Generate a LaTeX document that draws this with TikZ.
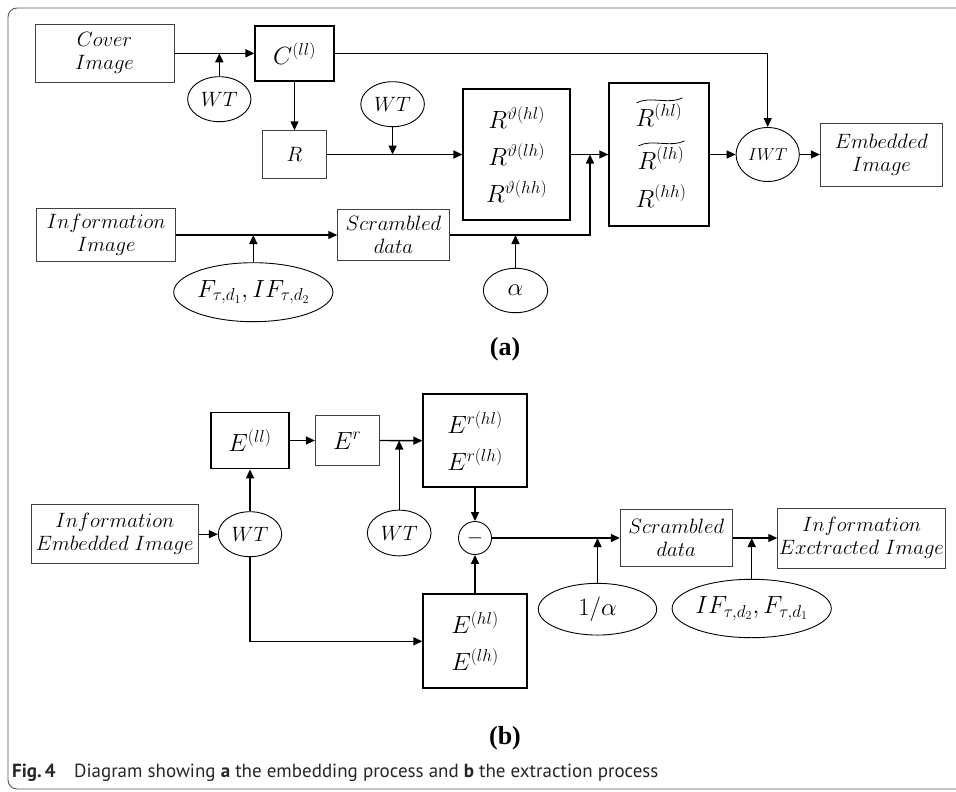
\documentclass[tikz,border=0pt]{standalone}
\usepackage{fontspec}
\usepackage{amsmath}
\newfontfamily\capfont{PT Sans}
\newfontfamily\lblfont{Liberation Serif}
\usetikzlibrary{arrows.meta,shapes.geometric,calc}
\begin{document}
\begin{tikzpicture}[x=1pt,y=-1pt,
  thinbox/.style={draw=black!75, line width=0.9pt, rectangle, inner sep=0pt, align=center, font=\fontsize{19.5}{23}\selectfont},
  thickbox/.style={draw=black, line width=1.8pt, rectangle, inner sep=0pt, align=center, font=\fontsize{24}{37}\selectfont},
  inbox/.style={inner sep=0pt, anchor=base, font=\fontsize{24}{26}\selectfont},
  oval/.style={draw=black, line width=0.9pt, ellipse, inner sep=0pt, font=\fontsize{21}{24}\selectfont},
  arr/.style={line width=1.4pt, -{Triangle[length=9pt,width=8pt]}},
  tl/.style={line width=0.8pt},
  sublbl/.style={font=\lblfont\bfseries\fontsize{26}{28}\selectfont, inner sep=0pt}
]
\useasboundingbox (0,0) rectangle (956,792);
\draw[black!65, line width=0.9pt, rounded corners=9pt] (8,8) rectangle (1000,789);

% ---------- (a) ----------
\node[thinbox, minimum width=139, minimum height=58] (cover) at (104.5,53.3) {$Cover$\\$Image$};
\node[thickbox, minimum width=78.3, minimum height=55.3] (C) at (294.5,53.3) {$C^{(ll)}$};
\node[oval, minimum width=63.3, minimum height=45] (wt1) at (219.3,99.2) {$WT$};
\node[thinbox, minimum width=64, minimum height=47.6, font=\fontsize{22}{24}\selectfont] (R) at (294.5,154.5) {$R$};
\node[oval, minimum width=63.6, minimum height=45] (wt2) at (392.6,104.2) {$WT$};
\node[thickbox, minimum width=106.7, minimum height=131] (Rv) at (516.7,154.5) {$R^{\vartheta(hl)}$\\$R^{\vartheta(lh)}$\\$R^{\vartheta(hh)}$};
\node[thickbox, minimum width=99.4, minimum height=143.3] (Rt) at (659,154.5) {};
\node[inbox] (rt1) at (659,126) {$R^{(hl)}$};
\node[inbox] (rt2) at (661,169) {$R^{(lh)}$};
\node[inbox] (rt3) at (661,207) {$R^{(hh)}$};
\draw[tl] ($(rt1.north west)+(1,-1)$) .. controls ($(rt1.north west)!0.3!(rt1.north east)+(0,-8)$) and ($(rt1.north west)!0.7!(rt1.north east)+(0,1)$) .. ($(rt1.north east)+(0,-6)$);
\draw[tl] ($(rt2.north west)+(1,-1)$) .. controls ($(rt2.north west)!0.3!(rt2.north east)+(0,-8)$) and ($(rt2.north west)!0.7!(rt2.north east)+(0,1)$) .. ($(rt2.north east)+(0,-6)$);
\node[oval, minimum width=63.3, minimum height=54, font=\fontsize{19}{22}\selectfont] (iwt) at (767.7,154.5) {$IWT$};
\node[thinbox, minimum width=122.4, minimum height=63] (emb) at (881.5,154.5) {$Embedded$\\$Image$};
\node[thinbox, minimum width=139, minimum height=53.4] (info) at (106.2,235) {$Information$\\$Image$};
\node[thinbox, minimum width=111.6, minimum height=51.4] (scr) at (393.5,235) {$Scrambled$\\$data$};
\node[oval, minimum width=153.3, minimum height=59, font=\fontsize{23}{26}\selectfont] (F) at (253.3,292.2) {$F_{\tau,d_1},IF_{\tau,d_2}$};
\node[oval, minimum width=64.4, minimum height=44.4, font=\fontsize{23}{26}\selectfont] (al) at (515.5,290.5) {$\alpha$};
\node[sublbl] (la) at (505,349) {(a)};
\coordinate (j1) at (590,154.5);

\draw[arr] (cover.east) -- (C.west);
\draw[arr] (wt1.north) -- (wt1.north |- cover.east);
\draw[arr] (C.south) -- (R.north);
\draw[arr] (R.east) -- (Rv.west);
\draw[arr] (wt2.south) -- (wt2.south |- R.east);
\draw[arr] (C.east) -| (iwt.north);
\draw[arr] (info.east) -- (scr.west);
\draw[arr] (F.north) -- (F.north |- info.east);
\draw[arr] (scr.east) -| (j1);
\draw[arr] (Rv.east) -- (Rt.west);
\draw[arr] (al.north) -- (al.north |- scr.east);
\draw[arr] (Rt.east) -- (iwt.west);
\draw[arr] (iwt.east) -- (emb.west);

% ---------- (b) ----------
\node[thickbox, minimum width=78.6, minimum height=56] (ell) at (250,440.5) {$E^{(ll)}$};
\node[thinbox, minimum width=63.7, minimum height=49.3, font=\fontsize{24}{26}\selectfont] (er) at (347.2,440.5) {$E^{r}$};
\node[thickbox, minimum width=103.4, minimum height=93.3] (erb) at (475,440.7) {$E^{r(hl)}$\\$E^{r(lh)}$};
\node[thinbox, minimum width=167.7, minimum height=58.6] (infoE) at (114.8,534.2) {$Information$\\$Embedded\ Image$};
\node[oval, minimum width=63.4, minimum height=45] (wt3) at (250,534.2) {$WT$};
\node[oval, minimum width=63.7, minimum height=45.7] (wt4) at (399.2,533) {$WT$};
\node[circle, draw=black, line width=0.9pt, minimum size=33, inner sep=0pt, font=\fontsize{22}{24}\selectfont] (mn) at (475,538) {$-$};
\node[thickbox, minimum width=103.4, minimum height=94] (ehl) at (475,641.3) {$E^{(hl)}$\\$E^{(lh)}$};
\node[thinbox, minimum width=112, minimum height=57.4] (scrb) at (676.3,538) {$Scrambled$\\$data$};
\node[oval, minimum width=118.4, minimum height=51.7, font=\fontsize{23}{26}\selectfont] (oa) at (597.5,609.2) {$1/\alpha$};
\node[oval, minimum width=153.3, minimum height=58.4, font=\fontsize{23}{26}\selectfont] (IF) at (751.7,608.5) {$IF_{\tau,d_2},F_{\tau,d_1}$};
\node[thinbox, minimum width=167.6, minimum height=60] (ext) at (861.5,538) {$Information$\\$Exctracted\ Image$};
\node[sublbl] (lb) at (505,738) {(b)};

\draw[arr] (infoE.east) -- (wt3.west);
\draw[arr] (wt3.north) -- (ell.south);
\draw[arr] (ell.east) -- (er.west);
\draw[arr] (er.east) -- (erb.west);
\draw[arr] (wt4.north) -- (wt4.north |- er.east);
\draw[arr] (erb.south) -- (mn.north);
\draw[arr] (wt3.south) |- (ehl.west);
\draw[arr] (ehl.north) -- (mn.south);
\draw[arr] (mn.east) -- (scrb.west);
\draw[arr] (oa.north) -- (oa.north |- mn.east);
\draw[arr] (scrb.east) -- (ext.west);
\draw[arr] (IF.north) -- (IF.north |- scrb.east);

% caption
\node[anchor=base west, inner sep=0pt, font=\capfont\fontsize{19}{21}\selectfont, text=black!85] (cap) at (12,777)
  {\textbf{Fig.\,4}\hspace{0.7em} Diagram showing \textbf{a} the embedding process and \textbf{b} the extraction process};
\end{tikzpicture}
\end{document}
